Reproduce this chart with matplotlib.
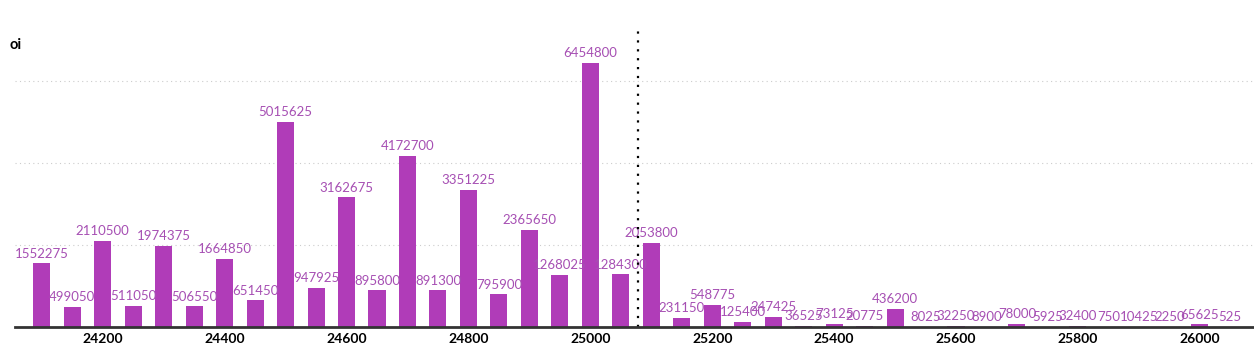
import matplotlib.pyplot as plt
import numpy as np

strikes = list(range(24100, 26100, 50))
oi = [1552275, 499050, 2110500, 511050, 1974375, 506550, 1664850, 651450,
      5015625, 947925, 3162675, 895800, 4172700, 891300, 3351225, 795900,
      2365650, 1268025, 6454800, 1284300, 2053800, 231150, 548775, 125400,
      247425, 36525, 73125, 20775, 436200, 8025, 32250, 8900,
      78000, 5925, 32400, 750, 10425, 2250, 65625, 525]
spot = 25078

bar_color = '#b03cb8'
label_color = '#a64fb3'

plt.rcParams['font.family'] = ['Lato', 'DejaVu Sans']

fig = plt.figure(figsize=(12.54, 3.48), dpi=100)
ax = fig.add_axes([15 / 1254, 21 / 348, 1 - 15 / 1254, 1 - 21 / 348 - 30 / 348])

bars = ax.bar(strikes, oi, width=28, color=bar_color, zorder=3)
for x, v in zip(strikes, oi):
    ax.text(x, v + 90000, str(v), ha='center', va='bottom', fontsize=9.5,
            color=label_color, zorder=4)

ax.axvline(spot, color='black', linestyle=(0, (1, 3)), linewidth=1.6, zorder=5)

ax.set_xlim(24056, 26089)
ax.set_ylim(0, 7.25e6)
ax.set_yticks([2e6, 4e6, 6e6])
ax.yaxis.grid(True, linestyle=(0, (1, 3)), color='#cccccc', linewidth=0.8)
ax.tick_params(axis='y', left=False, labelleft=False)
ax.set_xticks(range(24200, 26001, 200))
ax.tick_params(axis='x', length=0, pad=4)
for lbl in ax.get_xticklabels():
    lbl.set_fontweight('bold')
    lbl.set_fontsize(10)

for s in ['top', 'right', 'left']:
    ax.spines[s].set_visible(False)
ax.spines['bottom'].set_color('#333333')
ax.spines['bottom'].set_linewidth(2)
ax.spines['bottom'].set_zorder(6)

fig.text(10 / 1254, 1 - 45 / 348, 'oi', fontsize=10.5, fontweight='bold', va='center')

plt.savefig('out.png', dpi=100)
